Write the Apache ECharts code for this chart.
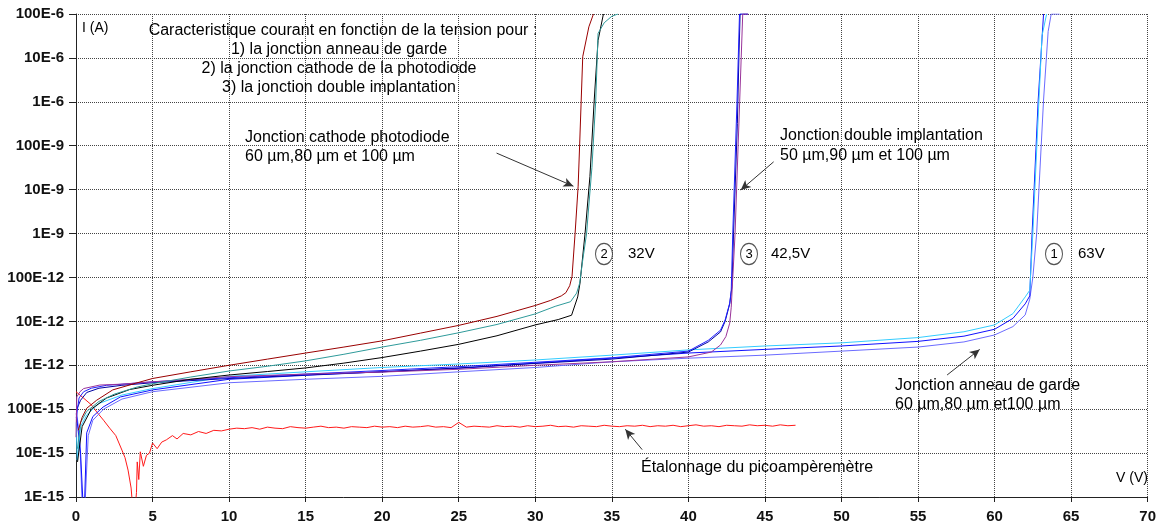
<!DOCTYPE html>
<html>
<head>
<meta charset="utf-8">
<script src="https://cdn.jsdelivr.net/npm/echarts@6/dist/echarts.min.js"></script>
<style>
html,body{margin:0;padding:0;background:#fff;}
#chart{width:1159px;height:527px;}
</style>
</head>
<body>
<div id="chart"></div>
<script>
// ---- tick labels ----
const yTickLabels = ["1E-15","10E-15","100E-15","1E-12","10E-12","100E-12","1E-9","10E-9","100E-9","1E-6","10E-6","100E-6"];
const xTicks = [0,5,10,15,20,25,30,35,40,45,50,55,60,65,70];

// ---- (2) Jonction cathode photodiode : [V, I(A)] ----
const cathodeDarkRed = [[0.15,3.3e-14],[0.4,6.5e-14],[0.7,1.05e-13],[1.35,1.6e-13],[2.4,2.75e-13],[3.9,3.9e-13],[5,5.0e-13],[7.5,7.1e-13],[10,1.0e-12],[12.5,1.38e-12],[15,1.9e-12],[17.5,2.6e-12],[20,3.6e-12],[22.5,5.4e-12],[25,8.1e-12],[27.5,1.3e-11],[30,2.3e-11],[31,3.0e-11],[31.7,3.8e-11],[32.0,4.5e-11],[32.25,6.5e-11],[32.4,1.05e-10],[32.6,1e-9],[32.8,1.2e-8],[32.9,1.1e-7],[33.0,1.1e-6],[33.1,1.07e-5],[33.5,5.1e-5],[33.8,1e-4]];
const cathodeTeal = [[0.1,1.26e-14],[0.3,5e-14],[0.7,8.9e-14],[1.5,1.5e-13],[2.5,2.2e-13],[4,3.2e-13],[5,3.8e-13],[7.5,5.4e-13],[10,7.4e-13],[12.5,9.5e-13],[15,1.26e-12],[17.5,1.78e-12],[20,2.6e-12],[22.5,3.7e-12],[25,5.5e-12],[27.5,8.5e-12],[30,1.48e-11],[31.3,2.2e-11],[32.3,2.8e-11],[32.7,4.4e-11],[32.9,7.4e-11],[33.1,2.5e-10],[33.35,1e-9],[33.7,3.2e-8],[33.95,1.1e-6],[34.1,3.6e-5],[34.5,6.3e-5],[35.0,8.9e-5],[35.4,1e-4]];
const cathodeBlack = [[0.1,6.3e-15],[0.4,4e-14],[1,1e-13],[2,1.8e-13],[3.5,2.8e-13],[5,3.5e-13],[7.5,4.8e-13],[10,6e-13],[12.5,7.2e-13],[15,8.7e-13],[17.5,1.12e-12],[20,1.5e-12],[22.5,2.1e-12],[25,3e-12],[27.5,4.7e-12],[30,8.3e-12],[31.5,1.1e-11],[32.37,1.38e-11],[32.77,3.6e-11],[32.92,7.4e-11],[33.25,1e-9],[33.57,2e-8],[33.85,1.1e-6],[34.1,2.5e-5],[34.45,1e-4]];

// ---- (3) Jonction double implantation ----
const doublePurple = [[0,2.3e-14],[0.05,1.9e-13],[0.26,2.5e-13],[0.5,2.95e-13],[1.56,3.55e-13],[2.9,3.7e-13],[5,4.2e-13],[10,5.5e-13],[15,6.3e-13],[20,7.0e-13],[25,8.1e-13],[30,1.0e-12],[35,1.2e-12],[40,1.55e-12],[41.5,2.0e-12],[42.1,2.9e-12],[42.45,4.5e-12],[42.7,9.1e-12],[42.8,2.1e-11],[42.9,1e-10],[43.05,1e-9],[43.25,1e-7],[43.35,1e-6],[43.45,1e-5],[43.55,1e-4],[43.9,1e-4]];
const doubleBlue = [[0.02,6.3e-14],[0.2,1.8e-13],[0.5,2.5e-13],[1,3.0e-13],[2,3.5e-13],[3,3.7e-13],[5,4.2e-13],[10,5.2e-13],[15,6.3e-13],[20,7.6e-13],[25,9.3e-13],[30,1.17e-12],[35,1.48e-12],[40,2.1e-12],[41.3,3.7e-12],[42.1,6.3e-12],[42.4,1.07e-11],[42.7,2.6e-11],[42.8,5.1e-11],[42.9,1e-9],[43.18,1.1e-6],[43.34,1e-4],[43.9,1e-4]];
const doubleNavy = [[0.05,1e-13],[0.3,1.6e-13],[0.7,2.4e-13],[1.5,3.0e-13],[3,3.5e-13],[5,4.0e-13],[10,5.0e-13],[15,6.0e-13],[20,7.1e-13],[25,8.7e-13],[30,1.1e-12],[35,1.38e-12],[40,2.0e-12],[41.3,3.4e-12],[42.1,5.75e-12],[42.4,1e-11],[42.7,2.5e-11],[42.85,6.3e-11],[42.95,1e-9],[43.2,3.2e-7],[43.3,1e-5],[43.38,1e-4],[43.9,1e-4]];

// ---- (1) Jonction anneau de garde ----
const gardeCyan = [[0.02,5e-14],[0.08,6.9e-15],[0.3,4e-14],[0.7,7.4e-14],[1.5,1.35e-13],[3,2.1e-13],[5,2.95e-13],[10,5.6e-13],[15,7.1e-13],[20,8.9e-13],[25,1.07e-12],[30,1.32e-12],[35,1.7e-12],[40,2.24e-12],[45,2.75e-12],[50,3.24e-12],[55,4.27e-12],[58,5.8e-12],[60,8.3e-12],[61.2,1.5e-11],[62,3.6e-11],[62.3,5.1e-11],[62.5,1e-9],[62.9,1.1e-6],[63.1,3.2e-5],[63.4,1e-4]];
const gardeBlue = [[0.02,8e-14],[0.3,1e-14],[0.45,8e-16],[0.55,6e-16],[0.7,2.9e-14],[1.1,6.8e-14],[1.77,1.12e-13],[2.9,1.9e-13],[5,2.75e-13],[10,4.8e-13],[15,5.9e-13],[20,7.1e-13],[25,8.5e-13],[30,1.12e-12],[35,1.45e-12],[40,1.9e-12],[45,2.3e-12],[50,2.75e-12],[55,3.5e-12],[58,4.6e-12],[60,6.6e-12],[61.2,1.17e-11],[62,2.5e-11],[62.3,3.8e-11],[62.45,1e-9],[62.85,1.1e-6],[63.2,1e-4]];
const gardePeriwinkle = [[0.02,1e-13],[0.25,2e-14],[0.4,7e-16],[0.6,8e-16],[0.8,2.5e-14],[1.1,5.6e-14],[1.8,1e-13],[3,1.7e-13],[5,2.5e-13],[10,4e-13],[15,4.8e-13],[20,5.6e-13],[25,7.1e-13],[30,8.9e-13],[35,1.2e-12],[40,1.45e-12],[45,1.7e-12],[50,2.1e-12],[55,2.6e-12],[58,3.4e-12],[60,4.9e-12],[61.2,7.6e-12],[62,1.4e-11],[62.3,3.2e-11],[62.5,1e-10],[62.75,1e-9],[63.2,1.1e-6],[63.5,4e-5],[63.7,1e-4],[64.25,1e-4]];

// ---- Étalonnage du picoampèremètre ----
const calibRed = [[0,2.5e-13],[0.5,1.78e-13],[1,1.26e-13],[1.35,8.7e-14],[1.8,5.6e-14],[2.2,3.7e-14],[2.6,2.5e-14],[3.0,1.17e-14],[3.2,7.9e-15],[3.4,4.1e-15],[3.6,1.6e-15],[3.7,6e-16],[3.85,5e-16],[3.95,1.26e-15],[4.0,6.3e-15],[4.1,2.5e-15],[4.2,1.07e-14],[4.4,5e-15],[4.6,8.9e-15],[4.8,1e-14],[5.0,1.7e-14],[5.3,1.26e-14],[5.6,1.78e-14],[5.9,2.0e-14],[6.3,2.5e-14],[6.6,2.1e-14],[7.0,2.8e-14],[7.5,2.6e-14],[8.0,3.1e-14],[8.5,2.8e-14],[9.0,3.3e-14],[9.5,3.2e-14],
[10,3.5e-14],[10.5,3.7e-14],[11,3.6e-14],[11.5,3.8e-14],[12,3.5e-14],[12.5,3.9e-14],[13,3.7e-14],[13.5,3.6e-14],[14,4.0e-14],[14.5,3.8e-14],[15,3.7e-14],[15.5,3.9e-14],[16,4.1e-14],[16.5,3.8e-14],[17,3.9e-14],[17.5,3.7e-14],[18,4.0e-14],[18.5,3.9e-14],[19,3.8e-14],[19.5,4.1e-14],[20,3.9e-14],[20.5,4.0e-14],[21,3.8e-14],[21.5,4.1e-14],[22,3.9e-14],[22.5,4.0e-14],[23,4.2e-14],[23.5,3.9e-14],[24,4.0e-14],[24.5,3.8e-14],[25,5.0e-14],[25.5,3.9e-14],[26,4.1e-14],[26.5,4.0e-14],[27,3.9e-14],[27.5,4.2e-14],[28,4.0e-14],[28.5,4.1e-14],[29,3.9e-14],[29.5,4.2e-14],[30,4.0e-14],[30.5,4.1e-14],[31,4.3e-14],[31.5,4.0e-14],[32,4.1e-14],[32.5,3.9e-14],[33,4.2e-14],[33.5,4.1e-14],[34,4.0e-14],[34.5,4.3e-14],[35,4.1e-14],[35.5,4.0e-14],[36,4.2e-14],[36.5,4.1e-14],[37,4.3e-14],[37.5,4.0e-14],[38,4.2e-14],[38.5,4.1e-14],[39,4.3e-14],[39.5,4.0e-14],[40,4.2e-14],[40.5,4.4e-14],[41,4.1e-14],[41.5,4.2e-14],[42,4.0e-14],[42.5,4.3e-14],[43,4.2e-14],[43.5,4.1e-14],[44,4.4e-14],[44.5,4.2e-14],[45,4.3e-14],[45.5,4.1e-14],[46,4.4e-14],[46.5,4.2e-14],[47,4.3e-14]];

// ---- annotation arrows (data coordinates: [V, I]) ----
const arrowCathode = [[27.47,6.8e-8],[32.49,1.2e-8]];
const arrowDouble = [[45.57,4.3e-8],[43.42,9.8e-9]];
const arrowGarde = [[56.9,6e-13],[59.03,2.3e-12]];
const arrowCalib = [[36.98,1.2e-14],[35.88,3.5e-14]];

const FONT = "'Liberation Sans', Arial, sans-serif";

function lineSeries(name, data, color) {
  return {
    name: name, type: 'line', data: data, symbol: 'none', showSymbol: false,
    lineStyle: {color: color, width: 1}, smooth: false, silent: true, clip: true,
    animation: false, z: 3
  };
}
function arrowLine(a) {
  return [{coord: a[0], symbol: 'none'}, {coord: a[1], symbol: 'arrow'}];
}

const chart = echarts.init(document.getElementById('chart'), null, {renderer: 'canvas'});

const series = [
  lineSeries('calib', calibRed, '#FF1A1A'),
  lineSeries('gardePeriwinkle', gardePeriwinkle, '#6B6BFF'),
  lineSeries('gardeBlue', gardeBlue, '#1010FF'),
  lineSeries('gardeCyan', gardeCyan, '#33CCFF'),
  lineSeries('doubleNavy', doubleNavy, '#0000A0'),
  lineSeries('doubleBlue', doubleBlue, '#2020FF'),
  lineSeries('doublePurple', doublePurple, '#993399'),
  lineSeries('cathodeBlack', cathodeBlack, '#000000'),
  lineSeries('cathodeTeal', cathodeTeal, '#2E9A9A'),
  lineSeries('cathodeDarkRed', cathodeDarkRed, '#990000')
];
series[0].markLine = {
  silent: true, animation: false, symbolSize: [7, 10],
  label: {show: false},
  lineStyle: {color: '#333', width: 1, type: 'solid'},
  data: [arrowLine(arrowCathode), arrowLine(arrowDouble), arrowLine(arrowGarde), arrowLine(arrowCalib)]
};

function txt(x, y, text, align, size, weight) {
  return {type: 'text', x: x, y: y, silent: true, z: 10,
    style: {text: text, fill: '#000', font: (weight || 'normal') + ' ' + (size || 16) + 'px ' + FONT,
      textAlign: align || 'left', textVerticalAlign: 'middle'}};
}
function ring(cx, cy, label) {
  return {type: 'group', x: cx, y: cy, silent: true, z: 10, children: [
    {type: 'circle', shape: {cx: 0, cy: 0, r: 8.5}, scaleY: 1.25,
      style: {fill: '#fff', stroke: '#555', lineWidth: 1}},
    {type: 'text', x: 0, y: 0, style: {text: label, fill: '#000', font: '13px ' + FONT, textAlign: 'center', textVerticalAlign: 'middle'}}
  ]};
}

chart.setOption({
  animation: false,
  backgroundColor: '#fff',
  grid: {left: 76, right: 8, top: 14, bottom: 30, containLabel: false},
  xAxis: {
    type: 'value', min: 0, max: 70, interval: 5,
    axisLine: {show: true, onZero: false, lineStyle: {color: '#222', width: 1}},
    axisTick: {show: true, length: 5, lineStyle: {color: '#222'}},
    axisLabel: {fontFamily: FONT, fontSize: 15, fontWeight: 'bold', color: '#111', margin: 12,
      formatter: function (v) { return xTicks.indexOf(v) >= 0 ? String(v) : ''; }},
    splitLine: {show: true, lineStyle: {type: 'dotted', color: '#444', width: 1}}
  },
  yAxis: {
    type: 'log', logBase: 10, min: 1e-15, max: 1e-4, interval: 1,
    axisLine: {show: true, onZero: false, lineStyle: {color: '#222', width: 1}},
    axisTick: {show: true, length: 7, lineStyle: {color: '#222'}},
    axisLabel: {fontFamily: FONT, fontSize: 15, fontWeight: 'bold', color: '#111', margin: 12,
      formatter: function (v) { return yTickLabels[Math.round(Math.log10(v)) + 15] || ''; }},
    splitLine: {show: true, lineStyle: {type: 'dotted', color: '#444', width: 1}}
  },
  series: series,
  graphic: [
    txt(82, 28, 'I (A)', 'left', 14),
    txt(1148, 478, 'V (V)', 'right', 14),
    txt(343, 31, 'Caracteristique courant en fonction de la tension pour :', 'center'),
    txt(339, 50, '1) la jonction anneau de garde', 'center'),
    txt(339, 69, '2) la jonction cathode de la photodiode', 'center'),
    txt(339, 88, '3) la jonction double implantation', 'center'),
    txt(245, 138, 'Jonction cathode photodiode'),
    txt(245, 157, '60 µm,80 µm et 100 µm'),
    txt(780, 136, 'Jonction double implantation'),
    txt(780, 156, '50 µm,90 µm et 100 µm'),
    txt(895, 386, 'Jonction anneau de garde'),
    txt(895, 405, '60 µm,80 µm et100 µm'),
    txt(641, 468, 'Étalonnage du picoampèremètre'),
    ring(604, 254, '2'), txt(628, 254, '32V', 'left', 15),
    ring(749, 254, '3'), txt(771, 254, '42,5V', 'left', 15),
    ring(1054, 254, '1'), txt(1078, 254, '63V', 'left', 15)
  ]
});
</script>
</body>
</html>
